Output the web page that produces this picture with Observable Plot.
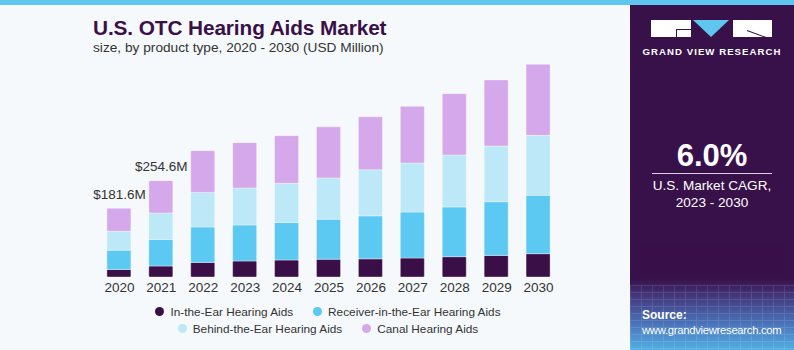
<!DOCTYPE html>
<html>
<head>
<meta charset="utf-8">
<script src="https://cdn.jsdelivr.net/npm/d3@7"></script>
<script src="https://cdn.jsdelivr.net/npm/@observablehq/plot@0.6"></script>
<style>
  html, body { margin: 0; padding: 0; }
  body { width: 794px; height: 350px; overflow: hidden; background: #f5f9fc; position: relative; font-family: "Liberation Sans", Arial, sans-serif; }
  #topbar { position: absolute; left: 0; top: 0; width: 794px; height: 5px; background: #5ec6ef; }
  #title { position: absolute; left: 93px; top: 16px; font-size: 20.8px; font-weight: bold; color: #3a1048; letter-spacing: -0.1px; white-space: nowrap; }
  #subtitle { position: absolute; left: 93px; top: 40px; font-size: 13.7px; color: #333; white-space: nowrap; }
  #chart { position: absolute; left: 0; top: 50px; }
  #legend { position: absolute; left: 0; top: 303px; width: 656px; font-size: 11.8px; color: #333; }
  .lrow { display: flex; justify-content: center; gap: 20px; height: 17px; align-items: center; }
  .litem { display: flex; align-items: center; white-space: nowrap; }
  .dot { width: 9px; height: 9px; border-radius: 50%; margin-right: 6px; }
  #panel { position: absolute; left: 630px; top: 5px; width: 164px; height: 345px;
    background: linear-gradient(to bottom, #38114a 0px, #38114a 274px, #43357a 290px, #4a72b8 318px, #52afe3 345px); overflow: hidden; }
  #mesh { position: absolute; left: 0; top: 280px; width: 164px; height: 65px; opacity: 0.11;
    background-image: repeating-linear-gradient(to right, #fff 0 1px, transparent 1px 11px), repeating-linear-gradient(to bottom, #fff 0 1px, transparent 1px 7px); }
  #inner { position: absolute; left: 10px; top: 240px; width: 144px; height: 28px; background: #3a0e4a; opacity: 0.5; }
  .wb { position: absolute; background: #fff; top: 15px; height: 17px; }
  #tri { position: absolute; left: 63px; top: 15px; width: 0; height: 0; border-left: 18.5px solid transparent; border-right: 18.5px solid transparent; border-top: 17px solid #5ec6ef; }
  #gvr { position: absolute; left: 0; width: 164px; top: 41px; text-align: center; color: #fff; font-weight: bold; font-size: 9.6px; letter-spacing: 1.05px; }
  #cagr { position: absolute; left: 0; width: 164px; top: 133px; text-align: center; color: #fff; font-weight: bold; font-size: 31px; }
  #rule { position: absolute; left: 22px; width: 120px; top: 168px; height: 1px; background: #d8d0de; }
  #cagrtxt { position: absolute; left: 0; width: 164px; top: 172px; text-align: center; color: #fff; font-size: 13.6px; line-height: 17px; }
  #src { position: absolute; left: 12px; top: 303px; color: #fff; font-size: 11.3px; line-height: 15px; letter-spacing: -0.3px; }
</style>
</head>
<body>
<div id="topbar"></div>
<div id="title">U.S. OTC Hearing Aids Market</div>
<div id="subtitle">size, by product type, 2020 - 2030 (USD Million)</div>
<div id="chart"></div>
<div id="legend"></div>
<div id="panel">
  <div id="mesh"></div>
  <div id="inner"></div>
  <div class="wb" style="left:21px;width:40px;"></div>
  <div style="position:absolute;left:46px;top:24px;width:15px;height:1px;background:#38114a"></div>
  <div style="position:absolute;left:46px;top:24px;width:1px;height:8px;background:#38114a"></div>
  <div id="tri"></div>
  <div class="wb" style="left:103px;width:39px;"></div>
  <div style="position:absolute;left:114px;top:32px;width:28px;height:1px;background:#38114a"></div>
  <div style="position:absolute;left:117px;top:25px;width:22px;height:1px;background:#38114a;transform:rotate(20deg);transform-origin:left"></div>
  <div id="gvr">GRAND VIEW RESEARCH</div>
  <div id="cagr">6.0%</div>
  <div id="rule"></div>
  <div id="cagrtxt">U.S. Market CAGR,<br>2023 - 2030</div>
  <div id="src"><b style="letter-spacing:0;font-size:12px">Source:</b><br>www.grandviewresearch.com</div>
</div>
<script>
const years = [2020, 2021, 2022, 2023, 2024, 2025, 2026, 2027, 2028, 2029, 2030];
const seriesNames = ["In-the-Ear Hearing Aids", "Receiver-in-the-Ear Hearing Aids", "Behind-the-Ear Hearing Aids", "Canal Hearing Aids"];
const seriesColors = ["#3a0f47", "#5bc9f2", "#bde8f8", "#d4a8ea"];
const inTheEar = [20, 29, 38.6, 42.3, 44.9, 47, 48, 50.2, 53.7, 57.1, 61.6];
const receiverInTheEar = [51, 70, 93.6, 95.1, 99.4, 105.7, 113.6, 121.6, 131.4, 141.9, 154.1];
const behindTheEar = [50, 70.4, 91.4, 97.8, 103.1, 109.2, 121.6, 129.5, 137.4, 147.2, 158.6];
const canal = [60.6, 85.2, 110.2, 119.7, 126, 134.8, 140.1, 149.6, 162, 174.4, 187.7];
const labelYears = [2020, 2021];
const labelValues = [181.6, 254.6];
const labelTexts = ["$181.6M", "$254.6M"];

const seriesValues = [inTheEar, receiverInTheEar, behindTheEar, canal];
const data = years.flatMap((yr, i) => seriesNames.map((s, j) => ({year: String(yr), series: s, value: seriesValues[j][i]})));
const labels = labelYears.map((yr, i) => ({year: String(yr), value: labelValues[i], text: labelTexts[i]}));

const chart = Plot.plot({
  width: 620,
  height: 250,
  marginLeft: 89,
  marginRight: 52,
  marginTop: 7.5,
  marginBottom: 23,
  style: {background: "transparent", fontFamily: "'Liberation Sans', Arial, sans-serif", color: "#333", fontSize: "13.5px"},
  x: {domain: years.map(String), padding: 0.427, round: false, label: null, tickSize: 0, tickPadding: 5},
  y: {domain: [0, 580], axis: null},
  color: {domain: seriesNames, range: seriesColors},
  marks: [
    Plot.barY(data, {x: "year", y: "value", fill: "series", stroke: "#ffffff", strokeOpacity: 0.45, strokeWidth: 0.8, rx: 1}),
    Plot.text(labels, {x: "year", y: "value", text: "text", dy: -10, lineAnchor: "bottom", fill: "#333", fontSize: 13.5})
  ]
});
document.getElementById("chart").appendChild(chart);

const legend = document.getElementById("legend");
[[0, 1], [2, 3]].forEach(row => {
  const r = document.createElement("div");
  r.className = "lrow";
  row.forEach(j => {
    const it = document.createElement("div");
    it.className = "litem";
    it.innerHTML = `<span class="dot" style="background:${seriesColors[j]}"></span>${seriesNames[j]}`;
    r.appendChild(it);
  });
  legend.appendChild(r);
});
</script>
</body>
</html>
